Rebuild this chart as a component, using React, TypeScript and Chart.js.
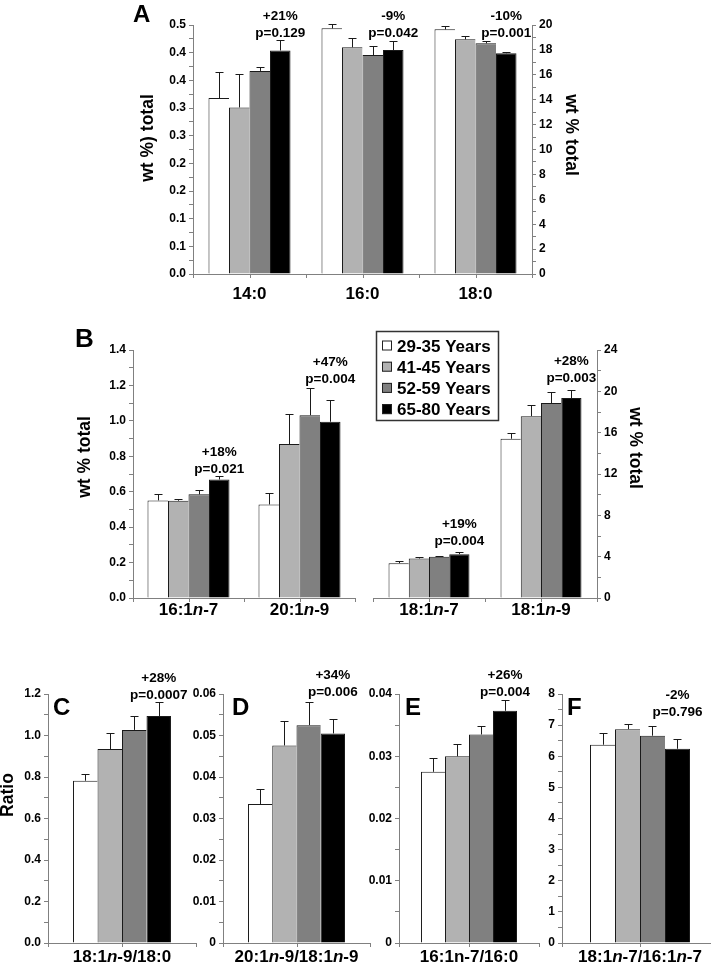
import React, { useEffect, useRef } from 'react';
import { Chart, registerables } from 'chart.js';

Chart.register(...registerables);

const FONT = '"Liberation Sans", Arial, Helvetica, sans-serif';
const AXIS_GRAY = '#808080';
const BAR_EDGE = '#1a1a1a';
const XAXIS_H = 20;

// ---------------- data ----------------
const ageGroups = ['29-35 Years', '41-45 Years', '52-59 Years', '65-80 Years'];
const groupColors = ['#ffffff', '#b2b2b2', '#808080', '#000000'];

// Panel A  (rows = age groups, columns = categories)
const catsA = ['14:0', '16:0', '18:0'];
const meanA = [
  [0.318, 19.73, 19.65],
  [0.301, 18.21, 18.85],
  [0.367, 17.59, 18.53],
  [0.404, 17.99, 17.73],
];
const semA = [
  [0.047, 0.35, 0.27],
  [0.06, 0.77, 0.29],
  [0.007, 0.75, 0.21],
  [0.018, 0.75, 0.1],
];
const changeA = ['+21%', '-9%', '-10%'];
const pValA = ['p=0.129', 'p=0.042', 'p=0.001'];
const ticksAL = [0, 0.05, 0.1, 0.15, 0.2, 0.25, 0.3, 0.35, 0.4, 0.45];
const labelsAL = ['0.0', '0.1', '0.1', '0.2', '0.2', '0.3', '0.3', '0.4', '0.4', '0.5'];
const ticksAR = [0, 2, 4, 6, 8, 10, 12, 14, 16, 18, 20];
const labelsAR = ['0', '2', '4', '6', '8', '10', '12', '14', '16', '18', '20'];

// Panel B (left part)
const catsB1 = ['16:1<i>n</i>-7', '20:1<i>n</i>-9'];
const meanB1 = [
  [0.551, 0.528],
  [0.549, 0.869],
  [0.585, 1.032],
  [0.669, 0.995],
];
const semB1 = [
  [0.035, 0.066],
  [0.011, 0.169],
  [0.022, 0.152],
  [0.017, 0.122],
];
const changeB1 = ['+18%', '+47%'];
const pValB1 = ['p=0.021', 'p=0.004'];
const ticksB1 = [0, 0.2, 0.4, 0.6, 0.8, 1.0, 1.2, 1.4];
const labelsB1 = ['0.0', '0.2', '0.4', '0.6', '0.8', '1.0', '1.2', '1.4'];

// Panel B (right part)
const catsB2 = ['18:1<i>n</i>-7', '18:1<i>n</i>-9'];
const meanB2 = [
  [3.37, 15.41],
  [3.82, 17.6],
  [3.98, 18.86],
  [4.24, 19.35],
];
const semB2 = [
  [0.25, 0.51],
  [0.13, 1.11],
  [0.1, 1.04],
  [0.2, 0.82],
];
const changeB2 = ['+19%', '+28%'];
const pValB2 = ['p=0.004', 'p=0.003'];
const ticksB2 = [0, 4, 8, 12, 16, 20, 24];
const labelsB2 = ['0', '4', '8', '12', '16', '20', '24'];

// Panel C
const catsC = ['18:1<i>n</i>-9/18:0'];
const meanC = [[0.782], [0.935], [1.027], [1.094]];
const semC = [[0.034], [0.075], [0.067], [0.069]];
const changeC = ['+28%'];
const pValC = ['p=0.0007'];
const ticksC = [0, 0.2, 0.4, 0.6, 0.8, 1.0, 1.2];
const labelsC = ['0.0', '0.2', '0.4', '0.6', '0.8', '1.0', '1.2'];

// Panel D
const catsD = ['20:1<i>n</i>-9/18:1<i>n</i>-9'];
const meanD = [[0.0335], [0.0476], [0.0525], [0.0505]];
const semD = [[0.0035], [0.0059], [0.0055], [0.0035]];
const changeD = ['+34%'];
const pValD = ['p=0.006'];
const ticksD = [0, 0.01, 0.02, 0.03, 0.04, 0.05, 0.06];
const labelsD = ['0', '0.01', '0.02', '0.03', '0.04', '0.05', '0.06'];

// Panel E
const catsE = ['16:1n-7/16:0'];
const meanE = [[0.0275], [0.03], [0.0335], [0.0373]];
const semE = [[0.0022], [0.002], [0.0014], [0.0017]];
const changeE = ['+26%'];
const pValE = ['p=0.004'];
const ticksE = [0, 0.01, 0.02, 0.03, 0.04];
const labelsE = ['0', '0.01', '0.02', '0.03', '0.04'];

// Panel F
const catsF = ['18:1<i>n</i>-7/16:1<i>n</i>-7'];
const meanF = [[6.37], [6.87], [6.66], [6.24]];
const semF = [[0.37], [0.16], [0.32], [0.31]];
const changeF = ['-2%'];
const pValF = ['p=0.796'];
const ticksF = [0, 1, 2, 3, 4, 5, 6, 7, 8];
const labelsF = ['0', '1', '2', '3', '4', '5', '6', '7', '8'];

// ---------------- layout ----------------
type AxisDef = {
  id: string;
  position: 'left' | 'right';
  max: number;
  ticks: number[];
  labels: string[];
  width: number;
};
type Panel = {
  id: string;
  box: { x: number; y: number; w: number; h: number };
  plot: { l: number; t: number; r: number; b: number };
  cats: string[];
  catAxis: string[];
  means: number[][];
  sems: number[][];
  changes: string[];
  pvals: string[];
  noteY: number[];
  axes: AxisDef[];
  groupFrac: number;
  labelBaseline: number;
  letter?: { text: string; x: number; y: number; size: number };
  titles: { text: string; x: number; y: number; rot: number }[];
  legend?: { x: number; y: number; w: number; h: number };
};

const panels: Panel[] = [
  {
    id: 'A',
    box: { x: 90, y: 0, w: 540, h: 320 },
    plot: { l: 193, t: 25, r: 532, b: 274 },
    cats: catsA,
    catAxis: ['yL', 'yR', 'yR'],
    means: meanA,
    sems: semA,
    changes: changeA,
    pvals: pValA,
    noteY: [0.437, 19.44, 19.44],
    axes: [
      { id: 'yL', position: 'left', max: 0.45, ticks: ticksAL, labels: labelsAL, width: 44 },
      { id: 'yR', position: 'right', max: 20, ticks: ticksAR, labels: labelsAR, width: 44 },
    ],
    groupFrac: 0.726,
    labelBaseline: 299,
    letter: { text: 'A', x: 133, y: 22, size: 24 },
    titles: [
      { text: 'wt %) total', x: 148, y: 138, rot: -90 },
      { text: 'wt % total', x: 571, y: 135, rot: 90 },
    ],
  },
  {
    id: 'B1',
    box: { x: 20, y: 312, w: 345, h: 318 },
    plot: { l: 133, t: 350, r: 355, b: 598 },
    cats: catsB1,
    catAxis: ['yL', 'yL'],
    means: meanB1,
    sems: semB1,
    changes: changeB1,
    pvals: pValB1,
    noteY: [0.736, 1.242],
    axes: [{ id: 'yL', position: 'left', max: 1.4, ticks: ticksB1, labels: labelsB1, width: 44 }],
    groupFrac: 0.739,
    labelBaseline: 615,
    letter: { text: 'B', x: 75, y: 347, size: 26 },
    titles: [{ text: 'wt % total', x: 85, y: 457, rot: -90 }],
  },
  {
    id: 'B2',
    box: { x: 365, y: 312, w: 335, h: 318 },
    plot: { l: 373, t: 350, r: 597, b: 598 },
    cats: catsB2,
    catAxis: ['yR', 'yR'],
    means: meanB2,
    sems: semB2,
    changes: changeB2,
    pvals: pValB2,
    noteY: [5.63, 21.36],
    axes: [{ id: 'yR', position: 'right', max: 24, ticks: ticksB2, labels: labelsB2, width: 44 }],
    groupFrac: 0.723,
    labelBaseline: 615,
    titles: [{ text: 'wt % total', x: 635, y: 448, rot: 90 }],
    legend: { x: 376, y: 331, w: 122, h: 89 },
  },
  {
    id: 'C',
    box: { x: 0, y: 640, w: 215, h: 325 },
    plot: { l: 48, t: 694, r: 196, b: 943 },
    cats: catsC,
    catAxis: ['yL'],
    means: meanC,
    sems: semC,
    changes: changeC,
    pvals: pValC,
    noteY: [1.2],
    axes: [{ id: 'yL', position: 'left', max: 1.2, ticks: ticksC, labels: labelsC, width: 40 }],
    groupFrac: 0.662,
    labelBaseline: 962,
    letter: { text: 'C', x: 53, y: 715, size: 24 },
    titles: [{ text: 'Ratio', x: 8, y: 795, rot: -90 }],
  },
  {
    id: 'D',
    box: { x: 175, y: 640, w: 210, h: 325 },
    plot: { l: 223, t: 694, r: 370, b: 943 },
    cats: catsD,
    catAxis: ['yL'],
    means: meanD,
    sems: semD,
    changes: changeD,
    pvals: pValD,
    noteY: [0.0607],
    axes: [{ id: 'yL', position: 'left', max: 0.06, ticks: ticksD, labels: labelsD, width: 40 }],
    groupFrac: 0.66,
    labelBaseline: 962,
    letter: { text: 'D', x: 232, y: 715, size: 24 },
    titles: [],
  },
  {
    id: 'E',
    box: { x: 355, y: 640, w: 200, h: 325 },
    plot: { l: 399, t: 694, r: 539, b: 943 },
    cats: catsE,
    catAxis: ['yL'],
    means: meanE,
    sems: semE,
    changes: changeE,
    pvals: pValE,
    noteY: [0.0405],
    axes: [{ id: 'yL', position: 'left', max: 0.04, ticks: ticksE, labels: labelsE, width: 40 }],
    groupFrac: 0.686,
    labelBaseline: 962,
    letter: { text: 'E', x: 405, y: 715, size: 24 },
    titles: [],
  },
  {
    id: 'F',
    box: { x: 520, y: 640, w: 220, h: 325 },
    plot: { l: 562, t: 694, r: 718, b: 943 },
    cats: catsF,
    catAxis: ['yL'],
    means: meanF,
    sems: semF,
    changes: changeF,
    pvals: pValF,
    noteY: [7.44],
    axes: [{ id: 'yL', position: 'left', max: 8, ticks: ticksF, labels: labelsF, width: 40 }],
    groupFrac: 0.641,
    labelBaseline: 962,
    letter: { text: 'F', x: 567, y: 715, size: 24 },
    titles: [],
  },
];

// ---------------- helpers ----------------
function withMinors(major: number[]): number[] {
  const out: number[] = [];
  major.forEach((v, i) => {
    out.push(v);
    if (i < major.length - 1) out.push((v + major[i + 1]) / 2);
  });
  return out;
}

function drawRich(ctx: CanvasRenderingContext2D, text: string, cx: number, baseline: number, size: number) {
  const parts = text
    .split(/(<i>.*?<\/i>)/)
    .filter((s) => s.length > 0)
    .map((s) => {
      const it = s.startsWith('<i>');
      return { t: it ? s.slice(3, -4) : s, italic: it };
    });
  const fontOf = (it: boolean) => `${it ? 'italic ' : ''}bold ${size}px ${FONT}`;
  let total = 0;
  const widths = parts.map((p) => {
    ctx.font = fontOf(p.italic);
    const w = ctx.measureText(p.t).width;
    total += w;
    return w;
  });
  let x = cx - total / 2;
  ctx.textAlign = 'left';
  ctx.textBaseline = 'alphabetic';
  ctx.fillStyle = '#000';
  parts.forEach((p, i) => {
    ctx.font = fontOf(p.italic);
    ctx.fillText(p.t, x, baseline);
    x += widths[i];
  });
}

function decorPlugin(p: Panel) {
  const ox = p.box.x;
  const oy = p.box.y;
  return {
    id: 'decor' + p.id,
    afterDatasetsDraw(chart: any) {
      const ctx: CanvasRenderingContext2D = chart.ctx;
      ctx.save();
      ctx.strokeStyle = BAR_EDGE;
      ctx.lineWidth = 1;
      chart.data.datasets.forEach((ds: any, di: number) => {
        const meta = chart.getDatasetMeta(di);
        const ys = chart.scales[ds.yAxisID];
        meta.data.forEach((el: any, j: number) => {
          const v = ds.data[j];
          if (v === null || v === undefined) return;
          const e = ds.errors[j];
          const top = Math.round(ys.getPixelForValue(v + e)) + 0.5;
          const x = Math.round(el.x) + 0.5;
          ctx.beginPath();
          ctx.moveTo(x, el.y);
          ctx.lineTo(x, top);
          ctx.moveTo(x - 4, top);
          ctx.lineTo(x + 4, top);
          ctx.stroke();
        });
      });
      ctx.restore();
    },
    afterDraw(chart: any) {
      const ctx: CanvasRenderingContext2D = chart.ctx;
      const area = chart.chartArea;
      const xs = chart.scales.x;
      ctx.save();

      // category centre ticks
      ctx.strokeStyle = AXIS_GRAY;
      ctx.lineWidth = 1;
      p.cats.forEach((_, i) => {
        const px = Math.round(xs.getPixelForValue(i)) + 0.5;
        ctx.beginPath();
        ctx.moveTo(px, area.bottom);
        ctx.lineTo(px, area.bottom + 4);
        ctx.stroke();
      });

      // change / p-value notes above the oldest group's bar
      p.cats.forEach((_, ci) => {
        const axisId = p.catAxis[ci];
        const di = chart.data.datasets.findIndex(
          (ds: any) => ds.yAxisID === axisId && ds.groupIndex === ageGroups.length - 1
        );
        if (di < 0) return;
        const el = chart.getDatasetMeta(di).data[ci];
        const yp = chart.scales[axisId].getPixelForValue(p.noteY[ci]);
        ctx.fillStyle = '#000';
        ctx.font = `bold 13.5px ${FONT}`;
        ctx.textAlign = 'center';
        ctx.textBaseline = 'alphabetic';
        ctx.fillText(p.pvals[ci], el.x, yp + 5);
        ctx.fillText(p.changes[ci], el.x, yp + 5 - 17);
      });

      // category labels
      p.cats.forEach((c, i) => {
        drawRich(ctx, c, xs.getPixelForValue(i), p.labelBaseline - oy, 17);
      });

      // panel letter
      if (p.letter) {
        ctx.fillStyle = '#000';
        ctx.font = `bold ${p.letter.size}px ${FONT}`;
        ctx.textAlign = 'left';
        ctx.textBaseline = 'alphabetic';
        ctx.fillText(p.letter.text, p.letter.x - ox, p.letter.y - oy);
      }

      // axis titles
      p.titles.forEach((t) => {
        ctx.save();
        ctx.translate(t.x - ox, t.y - oy);
        ctx.rotate((t.rot * Math.PI) / 180);
        ctx.fillStyle = '#000';
        ctx.font = `bold 17.5px ${FONT}`;
        ctx.textAlign = 'center';
        ctx.textBaseline = 'middle';
        ctx.fillText(t.text, 0, 0);
        ctx.restore();
      });

      // legend
      if (p.legend) {
        const L = p.legend;
        const lx = L.x - ox;
        const ly = L.y - oy;
        ctx.fillStyle = '#fff';
        ctx.fillRect(lx, ly, L.w, L.h);
        ctx.strokeStyle = '#333';
        ctx.lineWidth = 1.5;
        ctx.strokeRect(lx + 0.5, ly + 0.5, L.w, L.h);
        const items = chart.data.datasets.filter((ds: any, k: number) => k < ageGroups.length);
        items.forEach((ds: any, k: number) => {
          const cy = ly + 14.5 + k * 21.2;
          ctx.fillStyle = ds.backgroundColor;
          ctx.fillRect(lx + 6, cy - 5, 10, 10);
          ctx.strokeStyle = '#222';
          ctx.lineWidth = 1;
          ctx.strokeRect(lx + 6.5, cy - 4.5, 9, 9);
          ctx.fillStyle = '#000';
          ctx.font = `bold 17px ${FONT}`;
          ctx.textAlign = 'left';
          ctx.textBaseline = 'alphabetic';
          ctx.fillText(ds.label, lx + 21, cy + 6);
        });
      }
      ctx.restore();
    },
  };
}

function buildConfig(p: Panel): any {
  const datasets: any[] = [];
  p.axes.forEach((ax) => {
    ageGroups.forEach((g, gi) => {
      const last = gi === ageGroups.length - 1;
      datasets.push({
        label: g,
        yAxisID: ax.id,
        groupIndex: gi,
        data: p.cats.map((_, ci) => (p.catAxis[ci] === ax.id ? p.means[gi][ci] : null)),
        errors: p.cats.map((_, ci) => (p.catAxis[ci] === ax.id ? p.sems[gi][ci] : null)),
        backgroundColor: groupColors[gi],
        borderColor: BAR_EDGE,
        borderWidth: { top: 1, left: 1, right: last ? 1 : 0, bottom: 0 },
        borderSkipped: false,
        categoryPercentage: p.groupFrac,
        barPercentage: 1,
        skipNull: true,
      });
    });
  });

  const hasL = p.axes.some((a) => a.position === 'left');
  const hasR = p.axes.some((a) => a.position === 'right');
  const wL = hasL ? p.axes.find((a) => a.position === 'left')!.width : 0;
  const wR = hasR ? p.axes.find((a) => a.position === 'right')!.width : 0;
  const padding = {
    left: p.plot.l - p.box.x - wL,
    right: p.box.x + p.box.w - p.plot.r - wR,
    top: p.plot.t - p.box.y,
    bottom: p.box.y + p.box.h - p.plot.b - XAXIS_H,
  };

  const scales: any = {
    x: {
      type: 'category',
      offset: true,
      grid: {
        offset: true,
        display: true,
        drawOnChartArea: false,
        drawTicks: true,
        tickLength: 4,
        color: AXIS_GRAY,
        tickColor: AXIS_GRAY,
        lineWidth: 1,
      },
      border: { display: true, color: AXIS_GRAY, width: 1 },
      ticks: { display: false },
      afterFit: (s: any) => {
        s.height = XAXIS_H;
      },
    },
  };
  p.axes.forEach((ax) => {
    const all = withMinors(ax.ticks);
    scales[ax.id] = {
      type: 'linear',
      axis: 'y',
      position: ax.position,
      min: 0,
      max: ax.max,
      afterFit: (s: any) => {
        s.width = ax.width;
      },
      afterBuildTicks: (s: any) => {
        s.ticks = all.map((v) => ({ value: v }));
      },
      ticks: {
        autoSkip: false,
        padding: 3,
        color: '#000',
        font: { family: FONT, size: 12, weight: 'bold' },
        callback: (_v: any, i: number) => (i % 2 === 0 ? ax.labels[i / 2] : ''),
      },
      grid: {
        display: true,
        drawOnChartArea: false,
        drawTicks: true,
        tickLength: 4,
        color: AXIS_GRAY,
        tickColor: AXIS_GRAY,
      },
      border: { display: true, color: AXIS_GRAY, width: 1 },
    };
  });

  return {
    type: 'bar',
    data: { labels: p.cats, datasets },
    options: {
      responsive: false,
      maintainAspectRatio: false,
      animation: false,
      events: [],
      layout: { padding },
      plugins: {
        legend: { display: false },
        tooltip: { enabled: false },
        title: { display: false },
      },
      scales,
    },
    plugins: [decorPlugin(p)],
  };
}

function PanelChart({ panel }: { panel: Panel }) {
  const ref = useRef<HTMLCanvasElement | null>(null);
  useEffect(() => {
    if (!ref.current) return;
    const chart = new Chart(ref.current, buildConfig(panel));
    return () => chart.destroy();
  }, [panel]);
  return (
    <canvas
      ref={ref}
      width={panel.box.w}
      height={panel.box.h}
      style={{
        position: 'absolute',
        left: panel.box.x,
        top: panel.box.y,
        width: panel.box.w,
        height: panel.box.h,
      }}
    />
  );
}

export default function App() {
  return (
    <div
      style={{
        position: 'absolute',
        left: 0,
        top: 0,
        width: 711,
        height: 965,
        overflow: 'hidden',
        background: '#ffffff',
      }}
    >
      {panels.map((p) => (
        <PanelChart key={p.id} panel={p} />
      ))}
    </div>
  );
}
